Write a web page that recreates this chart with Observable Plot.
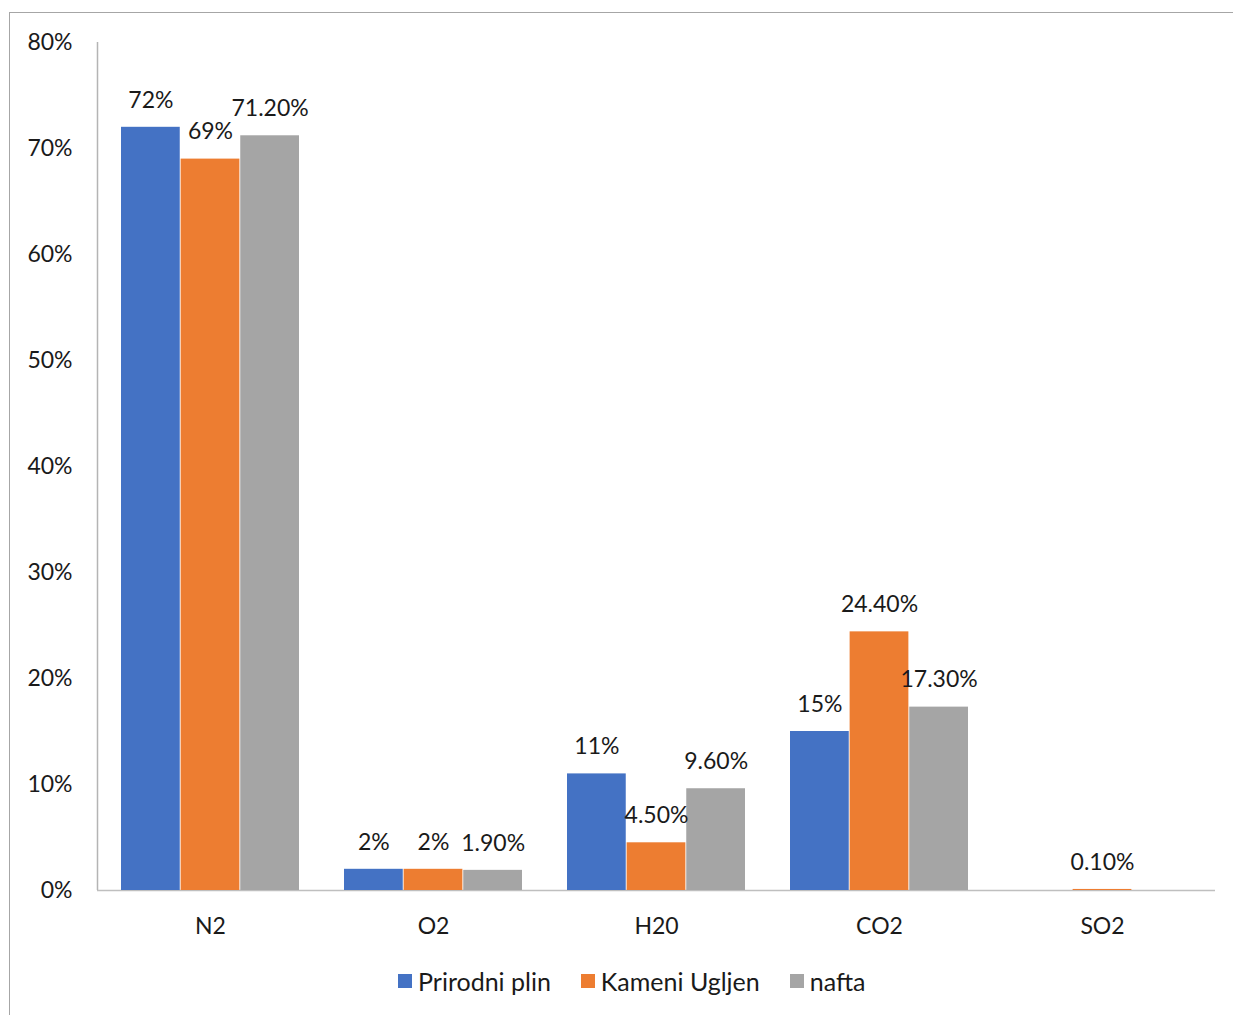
<!DOCTYPE html>
<html>
<head>
<meta charset="utf-8">
<script src="https://cdn.jsdelivr.net/npm/d3@7"></script>
<script src="https://cdn.jsdelivr.net/npm/@observablehq/plot@0.6"></script>
<style>
  html, body { margin: 0; padding: 0; background: #fff; overflow: hidden; }
  #wrap { position: relative; width: 1233px; height: 1015px; overflow: hidden; font-family: Lato, "Liberation Sans", sans-serif; }
  #border { position: absolute; left: 9px; top: 12px; width: 1400px; height: 1200px; border: 1px solid #a6a6a6; box-sizing: border-box; }
  #chart { position: absolute; left: 0; top: 0; }
  #legend { position: absolute; left: 398px; top: 966px; display: flex; align-items: center; font-size: 25px; color: #1a1a1a; }
  .item { display: flex; align-items: center; margin-right: 30px; }
  .sw { width: 14px; height: 14px; margin-right: 6px; }
</style>
</head>
<body>
<div id="wrap">
  <div id="border"></div>
  <div id="chart"></div>
  <div id="legend"></div>
</div>
<script>
const categories = ["N2", "O2", "H20", "CO2", "SO2"];
const seriesNames = ["Prirodni plin", "Kameni Ugljen", "nafta"];
const seriesColors = ["#4472C4", "#ED7D31", "#A5A5A5"];
const prirodniPlin = [0.72, 0.02, 0.11, 0.15, null];
const kameniUgljen = [0.69, 0.02, 0.045, 0.244, 0.001];
const nafta = [0.712, 0.019, 0.096, 0.173, null];
const prirodniPlinLabels = ["72%", "2%", "11%", "15%", ""];
const kameniUgljenLabels = ["69%", "2%", "4.50%", "24.40%", "0.10%"];
const naftaLabels = ["71.20%", "1.90%", "9.60%", "17.30%", ""];
const yTicks = [0, 0.1, 0.2, 0.3, 0.4, 0.5, 0.6, 0.7, 0.8];

const seriesValues = [prirodniPlin, kameniUgljen, nafta];
const seriesLabels = [prirodniPlinLabels, kameniUgljenLabels, naftaLabels];

const W = 1233, H = 950, mL = 97, mR = 18, mT = 42, mB = 60;
const padInner = 0.2, padOuter = 0.1;
const step = (W - mL - mR) / (categories.length - padInner + 2 * padOuter);
const bw = step * (1 - padInner);
const w = bw / 3;

const marks = [];
marks.push(Plot.ruleY([0], {stroke: "#bfbfbf", strokeWidth: 1.5}));
marks.push(Plot.axisY({ticks: yTicks, tickFormat: d3.format(".0%"), label: null, tickSize: 0, tickPadding: 25, fontSize: 23}));
// vertical axis line at the left edge of the frame (centered rule shifted by half the frame width)
marks.push(Plot.ruleX([0], {x: null, y1: 0, y2: 0.8, dx: -(W - mL - mR) / 2, stroke: "#b4b4b4", strokeWidth: 1.5}));
seriesValues.forEach((vals, i) => {
  const rows = categories.map((c, j) => ({cat: c, v: vals[j], label: seriesLabels[i][j]})).filter(d => d.v != null);
  marks.push(Plot.barY(rows, {
    x: "cat", y: "v", fill: seriesColors[i],
    insetLeft: i * w, insetRight: (2 - i) * w
  }));
});
seriesValues.forEach((vals, i) => {
  const rows = categories.map((c, j) => ({cat: c, v: vals[j], label: seriesLabels[i][j]})).filter(d => d.v != null);
  marks.push(Plot.text(rows, {
    x: "cat", y: "v", text: "label", dx: (i - 1) * w, dy: -27,
    fill: "#1a1a1a", fontSize: 23, lineAnchor: "middle"
  }));
});

const chart = Plot.plot({
  width: W, height: H,
  marginLeft: mL, marginRight: mR, marginTop: mT, marginBottom: mB,
  style: {fontFamily: "Lato, 'Liberation Sans', sans-serif", fontSize: "23px", color: "#1a1a1a", background: "transparent"},
  x: {domain: categories, paddingInner: padInner, paddingOuter: padOuter, label: null, tickSize: 0, tickPadding: 27},
  y: {domain: [0, 0.8], label: null},
  marks
});
document.getElementById("chart").appendChild(chart);

const legend = document.getElementById("legend");
seriesNames.forEach((n, i) => {
  const it = document.createElement("div");
  it.className = "item";
  it.innerHTML = `<div class="sw" style="background:${seriesColors[i]}"></div><span>${n}</span>`;
  legend.appendChild(it);
});
</script>
</body>
</html>
